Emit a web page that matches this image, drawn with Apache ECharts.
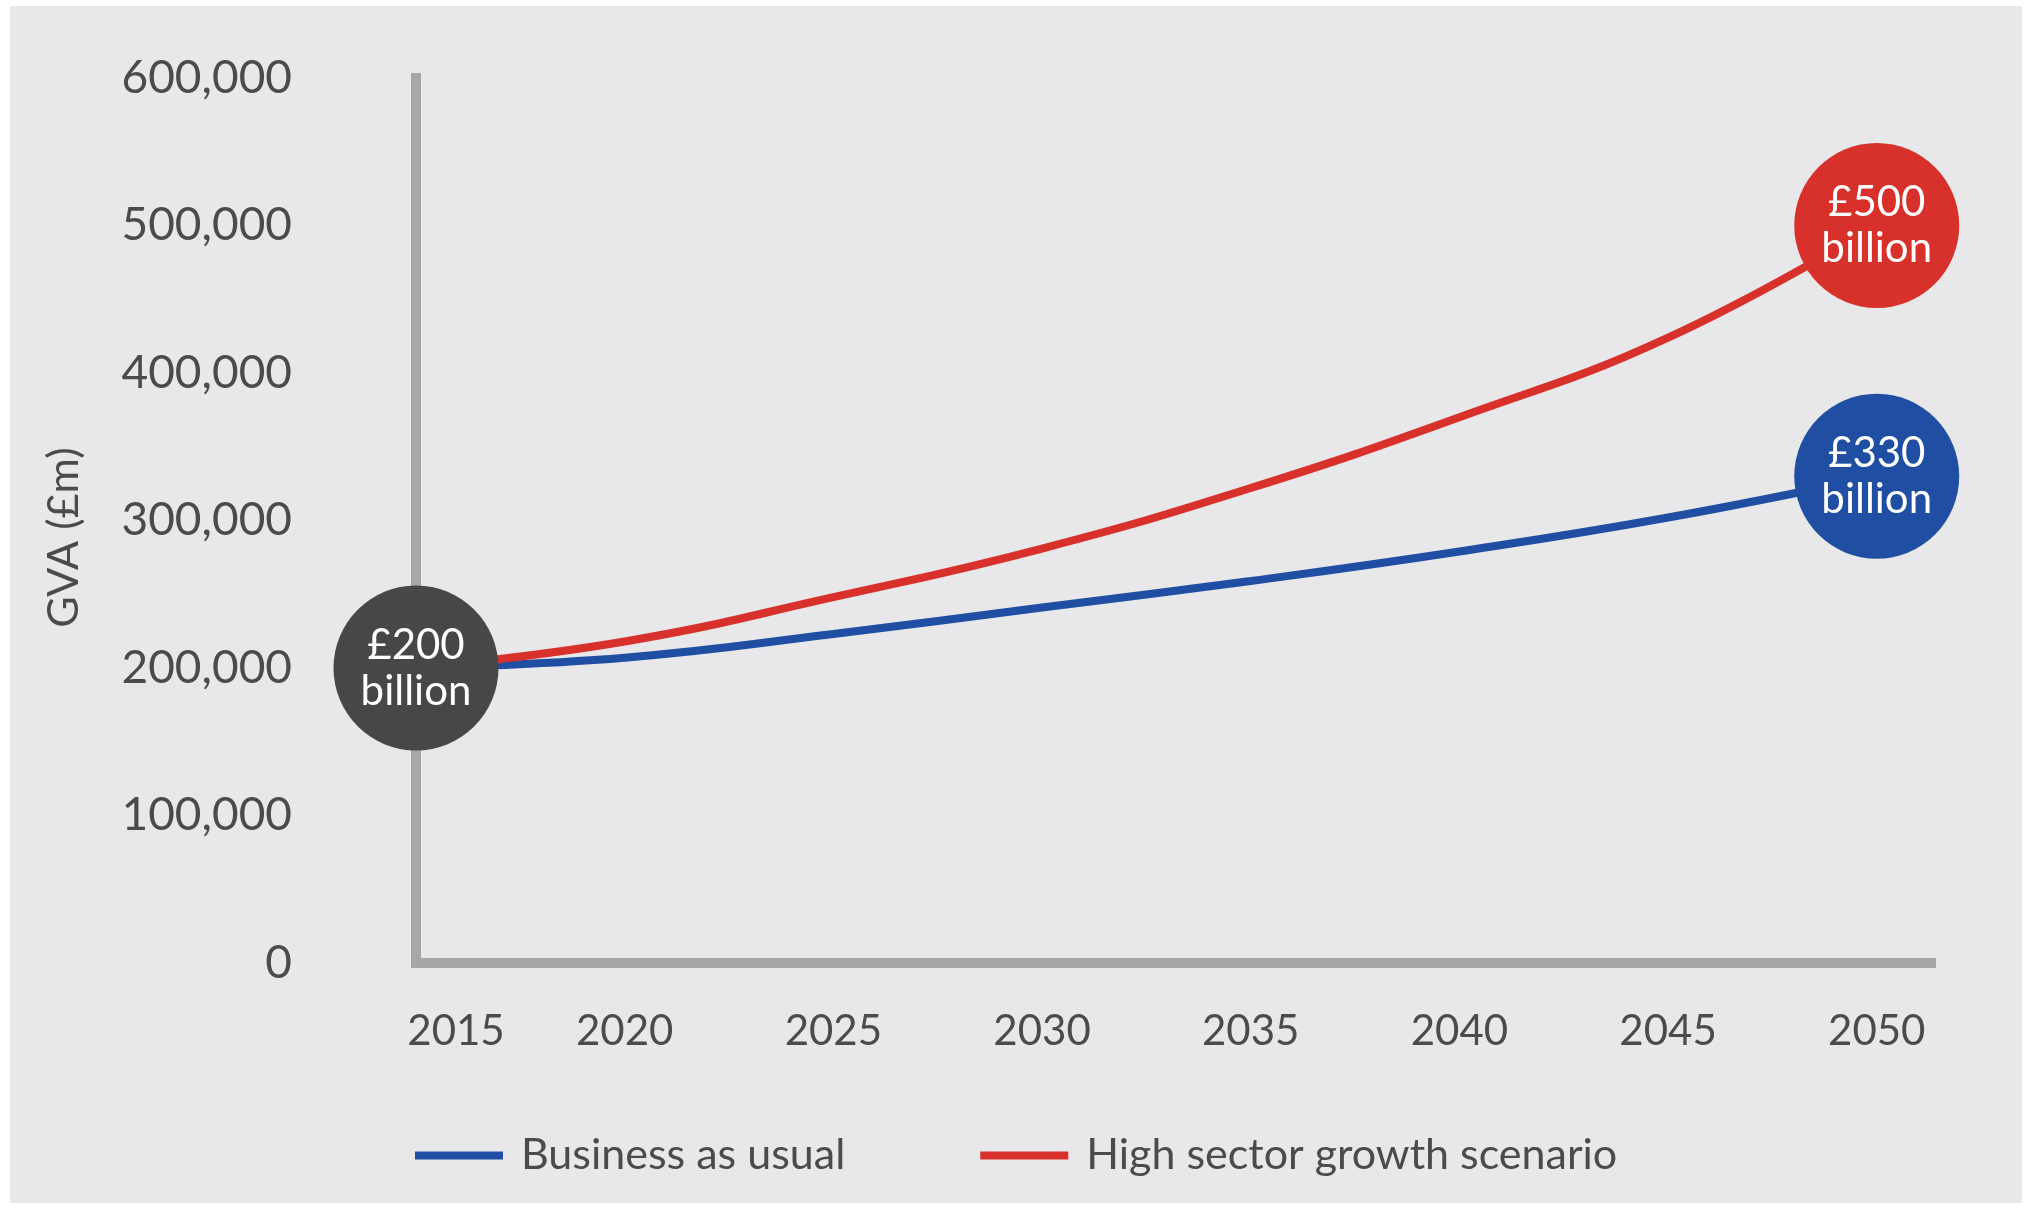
<!DOCTYPE html>
<html>
<head>
<meta charset="utf-8">
<script src="https://cdn.jsdelivr.net/npm/echarts@6/dist/echarts.min.js"></script>
<style>
  html, body { margin: 0; padding: 0; background: #ffffff; }
  #chart { position: absolute; left: 10px; top: 6px; width: 2012px; height: 1197px; }
</style>
</head>
<body>
<div id="chart"></div>
<script>
// GVA projections, £m
const years = [2015, 2020, 2025, 2030, 2035, 2040, 2045, 2050];
const businessAsUsual = [200000, 207000, 223000, 241000, 259000, 279000, 302000, 330000];
const highGrowth = [200000, 218000, 248000, 281000, 322000, 370000, 424000, 500000];
const seriesNames = ['Business as usual', 'High sector growth scenario'];
const bubbleTexts = ['£200\nbillion', '£330\nbillion', '£500\nbillion'];

const FONT = 'Lato';
const TEXT = '#4b4b4d';
const AXIS = '#a6a6a8';
const BLUE = '#1f4ea3';
const RED = '#d8302a';
const DARK = '#474749';

const last = years.length - 1;
const bubbles = [
  { value: [years[0], businessAsUsual[0]], itemStyle: { color: DARK }, label: { formatter: bubbleTexts[0] } },
  { value: [years[last], businessAsUsual[last]], itemStyle: { color: BLUE }, label: { formatter: bubbleTexts[1] } },
  { value: [years[last], highGrowth[last]], itemStyle: { color: RED }, label: { formatter: bubbleTexts[2] } }
];

const chart = echarts.init(document.getElementById('chart'));
chart.setOption({
  backgroundColor: '#e8e8ea',
  animation: false,
  textStyle: { fontFamily: FONT },
  grid: { left: 406, right: 91, top: 72, bottom: 240, containLabel: false },
  legend: {
    data: seriesNames,
    left: 400,
    top: 1123,
    icon: 'rect',
    itemWidth: 88,
    itemHeight: 8,
    itemGap: 135,
    textStyle: { fontFamily: FONT, fontSize: 43, color: TEXT, padding: [0, 0, 0, 13] }
  },
  xAxis: {
    type: 'value',
    min: 2015,
    max: 2051.3,
    interval: 5,
    splitLine: { show: false },
    axisTick: { show: false },
    axisLine: { show: true, lineStyle: { color: AXIS, width: 10, cap: 'square' } },
    axisLabel: {
      margin: 47,
      fontFamily: FONT,
      fontSize: 42,
      color: TEXT,
      showMaxLabel: false,
      formatter: function (v) {
        if (v % 5 !== 0) return '';
        return v === 2015 ? '{first|' + v + '}' : String(v);
      },
      rich: {
        first: { fontFamily: FONT, fontSize: 42, color: TEXT, padding: [0, 0, 0, 80] }
      }
    }
  },
  yAxis: {
    type: 'value',
    min: 0,
    max: 600000,
    interval: 100000,
    name: 'GVA (£m)',
    nameLocation: 'middle',
    nameGap: 330,
    nameTextStyle: { fontFamily: FONT, fontSize: 43, color: TEXT, padding: [0, 34, 0, 0] },
    splitLine: { show: false },
    axisTick: { show: false },
    axisLine: { show: true, lineStyle: { color: AXIS, width: 10, cap: 'square' } },
    axisLabel: {
      margin: 124,
      fontFamily: FONT,
      fontSize: 46,
      color: TEXT,
      formatter: function (v) { return v.toLocaleString('en-GB'); }
    }
  },
  series: [
    {
      name: seriesNames[0],
      type: 'line',
      data: years.map((y, i) => [y, businessAsUsual[i]]),
      smooth: 0.45,
      showSymbol: false,
      lineStyle: { color: BLUE, width: 8 },
      itemStyle: { color: BLUE },
      z: 3
    },
    {
      name: seriesNames[1],
      type: 'line',
      data: years.map((y, i) => [y, highGrowth[i]]),
      smooth: 0.45,
      showSymbol: false,
      lineStyle: { color: RED, width: 8 },
      itemStyle: { color: RED },
      z: 3
    },
    {
      type: 'scatter',
      data: bubbles,
      symbol: 'circle',
      symbolSize: 165,
      z: 5,
      itemStyle: { opacity: 1 },
      emphasis: { disabled: true },
      label: {
        show: true,
        position: 'inside',
        color: '#ffffff',
        fontFamily: FONT,
        fontSize: 42,
        lineHeight: 46
      }
    }
  ]
});
</script>
</body>
</html>
